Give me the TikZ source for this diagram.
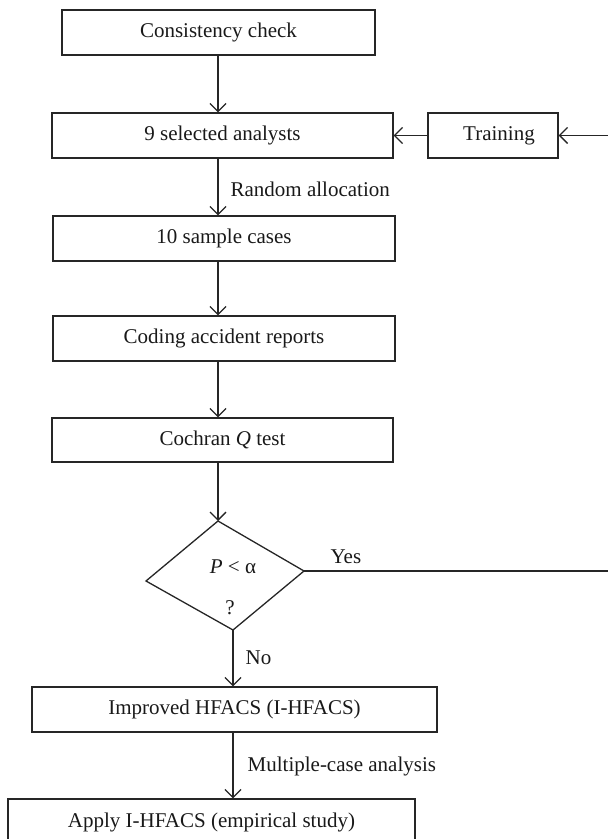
\documentclass[tikz,border=0pt]{standalone}
\usepackage{fontspec}
\setmainfont{Liberation Serif}
\usetikzlibrary{arrows.meta}
\begin{document}
\begin{tikzpicture}[x=0.5pt,y=-0.5pt,
  line width=0.65pt,
  txt/.style={font=\fontsize{10.5}{12.6}\selectfont, text=black!90},
  box/.style={txt, draw=black!85, rectangle, inner sep=0pt, minimum height=22.5pt},
  lbl/.style={txt, inner sep=0pt, anchor=west},
  flow/.style={draw=black!85, -{Straight Barb[length=4pt,width=8pt]}},
  link/.style={draw=black!85},
]
\useasboundingbox (0,0) rectangle (608,839);
\clip (0,0) rectangle (608,839);

% vertical axes of the flow
\coordinate (axis) at (218,0);
\coordinate (axislow) at (233,0);

% process boxes
\node[box, minimum width=156.5pt] (cons)  at (218.5,32.5) {Consistency check};
\node[box, minimum width=170.5pt] (sel)   at (222.5,135.5) {9 selected analysts};
\node[box, minimum width=65pt]    (train) at (493,135.5) {\hspace*{6pt}Training};
\node[box, minimum width=171pt]   (samp)  at (224,238.5) {10 sample cases};
\node[box, minimum width=171pt]   (code)  at (224,338.5) {Coding accident reports};
\node[box, minimum width=170.5pt, minimum height=22pt] (coch) at (222.5,440) {Cochran \textit{Q} test};
\node[box, minimum width=202.5pt] (impr)  at (234.5,709.5) {Improved HFACS (I-HFACS)};
\node[box, minimum width=203.5pt, minimum height=23pt] (apply) at (211.5,822) {Apply I-HFACS (empirical study)};

% decision
\coordinate (dtop)    at (218,521);
\coordinate (dright)  at (304,571);
\coordinate (dbottom) at (233,630);
\coordinate (dleft)   at (146,581);
\draw[link] (dtop) -- (dright) -- (dbottom) -- (dleft) -- cycle;
\node[txt, inner sep=0pt] (cond) at (233,567) {\textit{P} < α};
\node[txt, inner sep=0pt] (qmark) at (230,608) {?};

% loose ends leaving the frame on the right
\coordinate (feedin) at (608,135.5);
\coordinate (yesout) at (608,571);

% connectors
\draw[flow] (cons.south -| axis) -- (sel.north -| axis);
\draw[flow] (sel.south -| axis) -- (samp.north -| axis);
\draw[flow] (samp.south -| axis) -- (code.north -| axis);
\draw[flow] (code.south -| axis) -- (coch.north -| axis);
\draw[flow] (coch.south -| axis) -- (dtop);
\draw[flow] (dbottom) -- (impr.north -| axislow);
\draw[flow] (impr.south -| axislow) -- (apply.north -| axislow);
\draw[flow] (train.west) -- (sel.east);
\draw[flow] (feedin) -- (train.east);
\draw[link] (dright) -- (yesout);

% connector labels
\node[lbl] (lrand) at (230,189) {Random allocation};
\node[lbl] (lno)   at (245,658) {No};
\node[lbl] (lmult) at (247,766) {Multiple-case analysis};
\node[lbl] (lyes)  at (330,557) {Yes};
\end{tikzpicture}
\end{document}
